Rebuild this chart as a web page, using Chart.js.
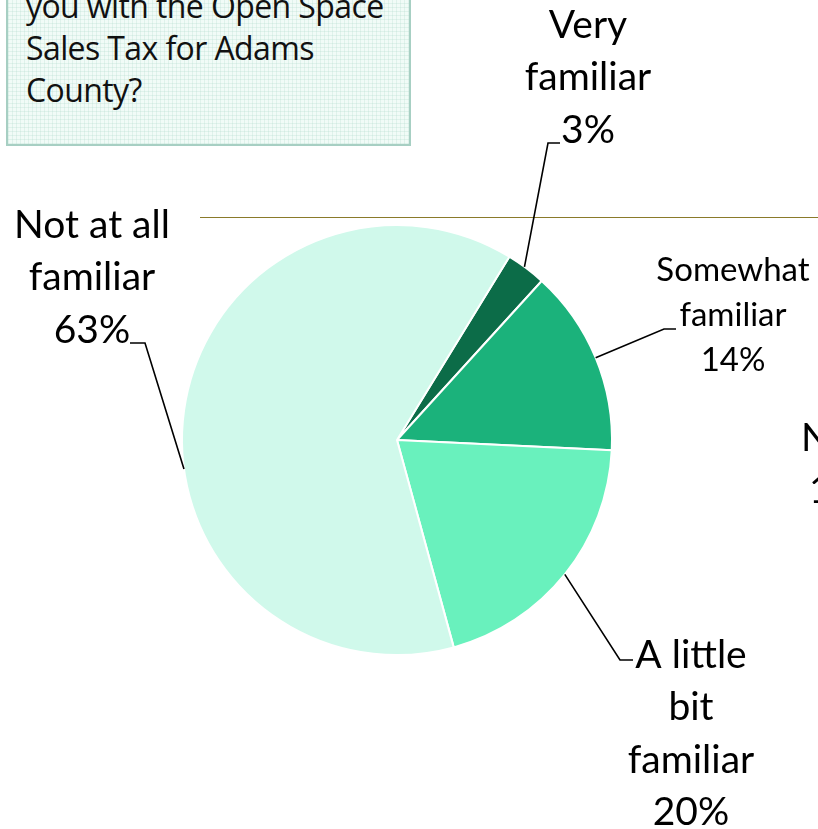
<!DOCTYPE html>
<html>
<head>
<meta charset="utf-8">
<script src="https://cdn.jsdelivr.net/npm/chart.js@4"></script>
<style>
    html, body { margin: 0; padding: 0; background: #fff; overflow: hidden; }
    #wrap { position: relative; width: 818px; height: 829px; }
    #question {
        position: absolute;
        left: 6px; top: -60px; width: 405px; height: 206px;
        border: 2px solid #a7cfc3;
        background-color: #f1fbf7;
        background-image:
            repeating-linear-gradient(0deg, rgba(170,215,200,0.25) 0 1px, transparent 1px 4px),
            repeating-linear-gradient(90deg, rgba(170,215,200,0.25) 0 1px, transparent 1px 4px);
        font-family: 'Open Sans', sans-serif;
        font-size: 32px;
        line-height: 42px;
        color: #111;
        padding: 43px 0 0 18px;
        box-sizing: border-box;
        letter-spacing: -0.6px;
    }
    canvas { position: absolute; left: 0; top: 0; }
</style>
</head>
<body>
<div id="wrap">
    <div id="question">you with the Open Space<br>Sales Tax for Adams<br>County?</div>
    <canvas id="pie" width="818" height="829"></canvas>
</div>
<script>
const categories = ['Very familiar', 'Somewhat familiar', 'A little bit familiar', 'Not at all familiar'];
const percents = [3, 14, 20, 63];
const sliceColors = ['#0c6c48', '#1bb27b', '#69f1bd', '#d0f9eb'];

// label text lines per slice
const labelLines = [
    ['Very', 'familiar', '3%'],
    ['Somewhat', 'familiar', '14%'],
    ['A little', 'bit', 'familiar', '20%'],
    ['Not at all', 'familiar', '63%']
];

// layout of the data labels (positions only)
const labelLayout = [
    { x: 588, y: 25, size: 39, gap: 52.5, anchor: 0.45, elbow: [548, 143], end: [560, 143] },
    { x: 733, y: 270, size: 33, gap: 45, anchor: 0.5, elbow: [664, 329], end: [676, 329] },
    { x: 691, y: 655, size: 39, gap: 52.5, anchor: 0.5, elbow: [620, 660], end: [633, 660] },
    { x: 92, y: 225, size: 39, gap: 52.5, anchor: 0.43, elbow: [145, 343], end: [130, 343] }
];

const labelFont = 'Lato, "Open Sans", sans-serif';

const labelPlugin = {
    id: 'pieLabels',
    beforeDraw(chart) {
        const c = chart.ctx;
        // thin rule across the slide
        c.save();
        c.strokeStyle = '#8a7a2a';
        c.lineWidth = 1.2;
        c.beginPath();
        c.moveTo(200, 217.5);
        c.lineTo(818, 217.5);
        c.stroke();
        c.restore();
    },
    afterDraw(chart) {
        const c = chart.ctx;
        const arcs = chart.getDatasetMeta(0).data;
        c.save();
        arcs.forEach((arc, i) => {
            const lay = labelLayout[i];
            const a = arc.startAngle + (arc.endAngle - arc.startAngle) * lay.anchor;
            const sx = arc.x + Math.cos(a) * arc.outerRadius;
            const sy = arc.y + Math.sin(a) * arc.outerRadius;
            c.strokeStyle = '#000';
            c.lineWidth = 1.6;
            c.beginPath();
            c.moveTo(sx, sy);
            c.lineTo(lay.elbow[0], lay.elbow[1]);
            c.lineTo(lay.end[0], lay.end[1]);
            c.stroke();

            c.fillStyle = '#000';
            c.font = lay.size + 'px ' + labelFont;
            c.textAlign = 'center';
            c.textBaseline = 'middle';
            labelLines[i].forEach((t, k) => {
                c.fillText(t, lay.x, lay.y + k * lay.gap);
            });
        });
        // labels of the neighbouring chart, cut off at the edge
        c.font = '39px ' + labelFont;
        c.textAlign = 'left';
        c.fillText('Not sure', 801, 438);
        c.fillText('1%', 809, 490);
        c.restore();
    }
};

new Chart(document.getElementById('pie').getContext('2d'), {
    type: 'pie',
    data: {
        labels: categories,
        datasets: [{
            data: percents,
            backgroundColor: sliceColors,
            borderColor: '#ffffff',
            borderWidth: 2
        }]
    },
    options: {
        responsive: false,
        animation: false,
        rotation: 31.5,
        layout: { padding: { left: 181, right: 205, top: 224, bottom: 173 } },
        plugins: {
            legend: { display: false },
            tooltip: { enabled: false }
        }
    },
    plugins: [labelPlugin]
});
</script>
</body>
</html>
